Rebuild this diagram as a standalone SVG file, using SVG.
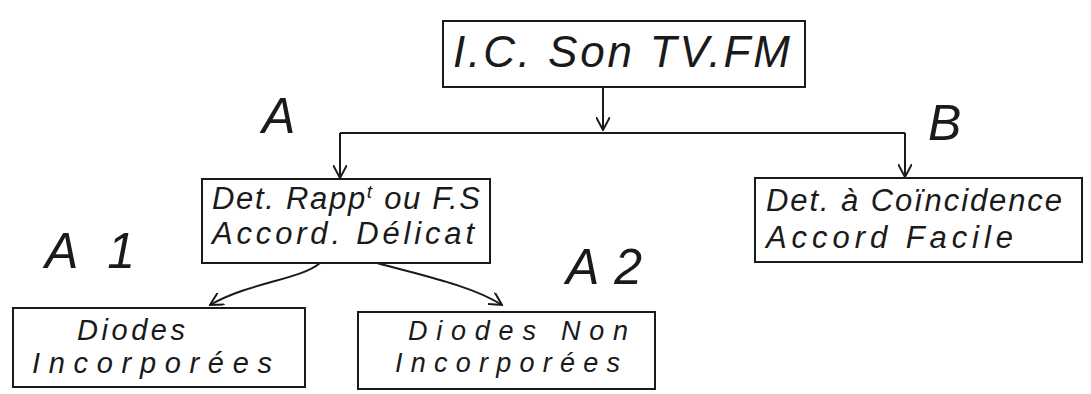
<svg xmlns="http://www.w3.org/2000/svg" width="1091" height="394" viewBox="0 0 1091 394">
<style>
.box{fill:none;stroke:#1a1a1a;stroke-width:2}
.t{font-family:"Liberation Sans",Arial,sans-serif;font-style:italic;fill:#1a1a1a}
.lbl{font-family:"Liberation Sans",Arial,sans-serif;font-style:italic;fill:#1a1a1a;font-size:50px}
.c{fill:none;stroke:#1a1a1a;stroke-width:2}
</style>
<defs>
<marker id="ah" viewBox="0 0 14 14" refX="13" refY="7" markerWidth="14" markerHeight="14" markerUnits="userSpaceOnUse" orient="auto">
<path d="M0,0 L13,7 L0,14" fill="none" stroke="#1a1a1a" stroke-width="2"/>
</marker>
</defs>
<rect width="1091" height="394" fill="#ffffff"/>
<g id="connectors">
<line class="c" x1="603" y1="87" x2="603" y2="130" marker-end="url(#ah)"/>
<line class="c" x1="340" y1="133" x2="905" y2="133"/>
<line class="c" x1="340" y1="133" x2="340" y2="178" marker-end="url(#ah)"/>
<line class="c" x1="905" y1="133" x2="905" y2="177" marker-end="url(#ah)"/>
<path class="c" d="M320,263 C300,280 250,282 210,305" marker-end="url(#ah)"/>
<path class="c" d="M377,263 C420,275 470,285 502,305" marker-end="url(#ah)"/>
</g>
<g id="root">
<rect class="box" x="443" y="21" width="362" height="66"/>
<text class="t" x="453" y="67" font-size="44" textLength="337" lengthAdjust="spacing">I.C. Son TV.FM</text>
</g>
<g id="nodeA">
<rect class="box" x="202" y="179" width="288" height="84"/>
<text class="t" x="212" y="209" font-size="31" textLength="268" lengthAdjust="spacing">Det. Rapp<tspan font-size="19" dy="-11">t</tspan><tspan dy="11"> ou F.S</tspan></text>
<text class="t" x="212" y="244" font-size="31" textLength="262" lengthAdjust="spacing">Accord. Délicat</text>
</g>
<g id="nodeB">
<rect class="box" x="755" y="178" width="327" height="84"/>
<text class="t" x="766" y="211" font-size="31" textLength="296" lengthAdjust="spacing">Det. à Coïncidence</text>
<text class="t" x="766" y="248" font-size="31" textLength="247" lengthAdjust="spacing">Accord Facile</text>
</g>
<g id="nodeA1">
<rect class="box" x="13" y="308" width="292" height="79"/>
<text class="t" x="77" y="340" font-size="29" textLength="108" lengthAdjust="spacing">Diodes</text>
<text class="t" x="32" y="373" font-size="29" textLength="240" lengthAdjust="spacing">Incorporées</text>
</g>
<g id="nodeA2">
<rect class="box" x="358" y="312" width="297" height="77"/>
<text class="t" x="408" y="340" font-size="27" textLength="220" lengthAdjust="spacing">Diodes Non</text>
<text class="t" x="395" y="372" font-size="27" textLength="225" lengthAdjust="spacing">Incorporées</text>
</g>
<g id="labels">
<text class="lbl" x="262" y="133">A</text>
<text class="lbl" x="928" y="140">B</text>
<text class="lbl" x="45" y="268" textLength="90" lengthAdjust="spacing">A 1</text>
<text class="lbl" x="566" y="284" textLength="76" lengthAdjust="spacing">A2</text>
</g>
</svg>
